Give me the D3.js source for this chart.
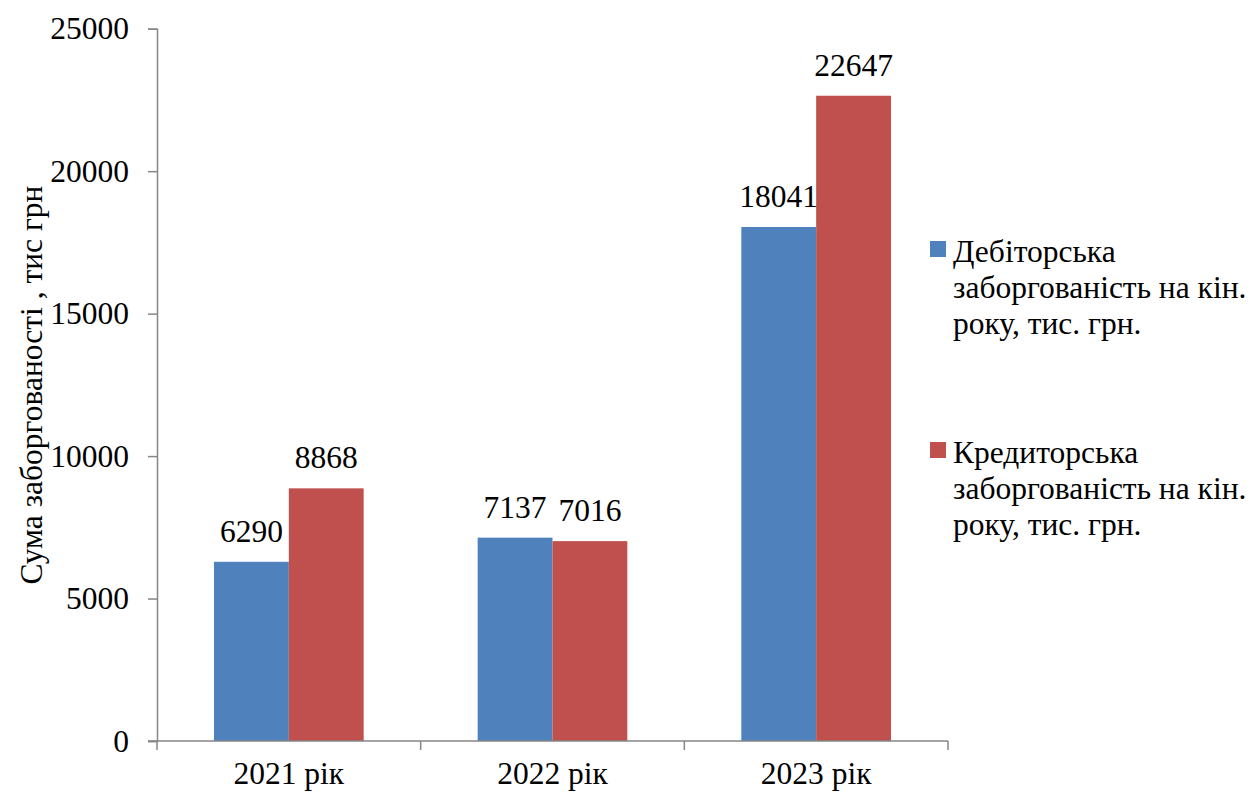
<!DOCTYPE html>
<meta charset="utf-8" />
<style>
    body { margin: 0; background: #fff; }
    svg text, svg tspan { font-family: "Times New Roman", "Liberation Serif", Tinos, "DejaVu Serif", serif !important; fill: #000; }
</style>
<svg width="1254" height="795" font-family="'Times New Roman', 'Liberation Serif', serif"></svg>
<script src="https://d3js.org/d3.v7.min.js"></script>
<script>
    var svg = d3.select("svg");

    // data
    var years = ["2021 рік", "2022 рік", "2023 рік"];
    var debit = [6290, 7137, 18041];
    var credit = [8868, 7016, 22647];
    var seriesNames = [
        ["Дебіторська", "заборгованість на кін.", "року, тис. грн."],
        ["Кредиторська", "заборгованість на кін.", "року, тис. грн."]
    ];
    var colors = ["#4F81BD", "#C0504D"];
    var yTicks = [0, 5000, 10000, 15000, 20000, 25000];

    var plotLeft = 157, plotRight = 948, plotTop = 28.7, plotBottom = 741;
    var fontSize = "31.5px";

    var x = d3.scaleBand().domain(years).range([plotLeft, plotRight]).paddingInner(0).paddingOuter(0);
    var inner = d3.scaleBand().domain([0, 1]).range([57, x.bandwidth() - 57]);
    var y = d3.scaleLinear().domain([0, 25000]).range([plotBottom, plotTop]);

    var rows = years.map(function (d, i) {
        return { year: d, values: [debit[i], credit[i]] };
    });

    // bars
    var groups = svg.append("g").selectAll("g")
        .data(rows)
        .enter()
        .append("g")
        .attr("transform", function (d) { return "translate(" + x(d.year) + ",0)"; });

    groups.selectAll("rect")
        .data(function (d) { return d.values; })
        .enter()
        .append("rect")
        .attr("x", function (d, i) { return inner(i); })
        .attr("width", inner.bandwidth())
        .attr("y", function (d) { return y(d); })
        .attr("height", function (d) { return plotBottom - y(d); })
        .attr("fill", function (d, i) { return colors[i]; });

    groups.selectAll("text")
        .data(function (d) { return d.values; })
        .enter()
        .append("text")
        .attr("x", function (d, i) { return inner(i) + inner.bandwidth() / 2; })
        .attr("y", function (d) { return y(d) - 20; })
        .attr("text-anchor", "middle")
        .style("font-size", fontSize)
        .text(function (d) { return d; });

    // axes
    var yAxis = svg.append("g")
        .attr("transform", "translate(" + plotLeft + ",0)")
        .call(d3.axisLeft(y).tickValues(yTicks).tickSize(9).tickPadding(19).tickFormat(d3.format("d")));
    yAxis.select(".domain").attr("stroke", "#868686").attr("stroke-width", 1.5);
    yAxis.selectAll(".tick line").attr("stroke", "#868686").attr("stroke-width", 1.5);
    yAxis.attr("font-family", null).attr("font-size", null);
    yAxis.selectAll(".tick text").style("font-size", fontSize);

    var xAxis = svg.append("g")
        .attr("transform", "translate(0," + plotBottom + ")");
    xAxis.append("line")
        .attr("x1", plotLeft - 9).attr("x2", plotRight)
        .attr("stroke", "#868686").attr("stroke-width", 1.5);
    xAxis.selectAll("line.tick")
        .data(years.concat(["end"]))
        .enter()
        .append("line")
        .attr("class", "tick")
        .attr("x1", function (d, i) { return i < years.length ? x(d) : plotRight; })
        .attr("x2", function (d, i) { return i < years.length ? x(d) : plotRight; })
        .attr("y1", 0).attr("y2", 9)
        .attr("stroke", "#868686").attr("stroke-width", 1.5);
    xAxis.selectAll("text")
        .data(years)
        .enter()
        .append("text")
        .attr("x", function (d) { return x(d) + x.bandwidth() / 2; })
        .attr("y", 43)
        .attr("text-anchor", "middle")
        .style("font-size", fontSize)
        .text(function (d) { return d; });

    // y axis title
    svg.append("text")
        .attr("transform", "translate(42,385) rotate(-90)")
        .attr("text-anchor", "middle")
        .style("font-size", fontSize)
        .text("Сума заборгованості , тис грн");

    // legend
    var legendTops = [262, 463];
    var legend = svg.append("g").selectAll("g")
        .data(seriesNames)
        .enter()
        .append("g")
        .attr("transform", function (d, i) { return "translate(930," + legendTops[i] + ")"; });
    legend.append("rect")
        .attr("y", -21).attr("width", 16).attr("height", 16)
        .attr("fill", function (d, i) { return colors[i]; });
    legend.append("text")
        .style("font-size", fontSize)
        .selectAll("tspan")
        .data(function (d) { return d; })
        .enter()
        .append("tspan")
        .attr("x", 23)
        .attr("y", function (d, i) { return i * 36; })
        .text(function (d) { return d; });
</script>
